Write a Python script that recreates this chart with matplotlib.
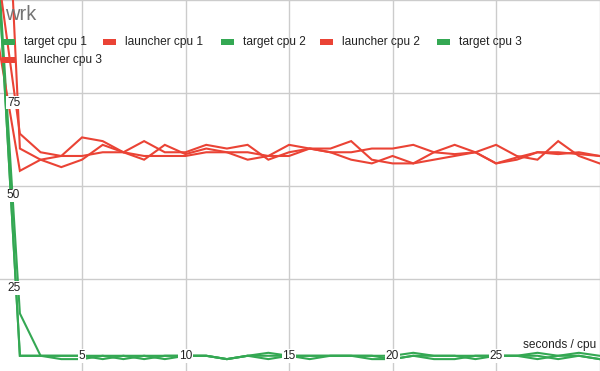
import matplotlib
matplotlib.use("Agg")
import matplotlib.pyplot as plt
from matplotlib.patches import Rectangle

# --- data (percent cpu per second) ---
seconds = list(range(1, 31))
target_cpu_1 = [105, 15.6, 4.2, 4.2, 4.2, 4.2, 4.2, 4.2, 4.2, 4.2,
                4.2, 3.3, 4.2, 5.0, 4.2, 4.2, 4.2, 4.2, 4.2, 4.2,
                5.0, 4.2, 4.2, 3.3, 4.2, 4.2, 5.0, 4.2, 5.0, 4.2]
target_cpu_2 = [103, 4.2, 4.2, 3.3, 3.3, 4.2, 3.3, 4.2, 3.3, 4.2,
                4.2, 3.3, 4.2, 4.2, 4.2, 3.3, 4.2, 4.2, 3.3, 3.3,
                4.2, 3.3, 3.3, 4.2, 4.2, 4.2, 4.2, 3.3, 4.2, 3.3]
target_cpu_3 = [103, 4.2, 4.2, 4.2, 4.2, 3.3, 4.2, 3.3, 4.2, 4.2,
                4.2, 3.3, 4.2, 3.3, 4.2, 4.2, 4.2, 4.2, 4.2, 3.3,
                4.2, 4.2, 4.2, 4.2, 4.2, 4.2, 3.3, 4.2, 4.2, 3.3]
launcher_cpu_1 = [87, 54, 57, 58, 63, 62, 59, 62, 59, 59,
                  61, 60, 61, 57, 59, 60, 60, 62, 57, 56,
                  56, 57, 58, 59, 56, 57.6, 59, 58.5, 59, 58]
launcher_cpu_2 = [180, 60, 57, 55, 57, 61, 59, 57, 61, 58.5,
                  60, 59, 57, 58, 61, 60, 59, 59, 60, 60,
                  61, 59, 58.5, 59, 56, 57, 59, 59, 58.5, 58]
launcher_cpu_3 = [105, 64, 59, 58, 58, 59, 59, 58, 58, 58,
                  59, 59, 59, 58, 58, 60, 59, 57, 56, 58,
                  56, 59, 61, 59, 61, 58, 57, 62, 58, 56]

series_names = ["target cpu 1", "launcher cpu 1", "target cpu 2",
                "launcher cpu 2", "target cpu 3", "launcher cpu 3"]
series_values = [target_cpu_1, launcher_cpu_1, target_cpu_2,
                 launcher_cpu_2, target_cpu_3, launcher_cpu_3]
x_ticks = [5, 10, 15, 20, 25]
y_ticks = [25, 50, 75]

GREEN = "#34a853"
RED = "#ea4335"
W, H = 600, 371

plt.rcParams["font.family"] = ["Liberation Sans", "DejaVu Sans"]

fig = plt.figure(figsize=(W / 100, H / 100), dpi=100)
ax = fig.add_axes([0, 0, 1, 1])
ax.set_xlim(1.04, 30.02)
ax.set_ylim(0.1, 99.8)
for s in ax.spines.values():
    s.set_visible(False)
ax.set_xticks(x_ticks + [30])
ax.set_yticks(y_ticks + [100])
ax.tick_params(length=0, labelbottom=False, labelleft=False)
ax.grid(True, color="#cccccc", linewidth=1)
ax.set_axisbelow(True)

for name, vals in zip(series_names, series_values):
    col = GREEN if name.startswith("target") else RED
    ax.plot(seconds, vals, color=col, linewidth=1.5, solid_joinstyle="miter")

lbl = dict(fontsize=8.6, color="#222222", zorder=5,
           bbox=dict(facecolor="white", edgecolor="none", pad=0.6))
for t in x_ticks:
    ax.annotate(str(t), xy=(t, 0), xycoords=("data", "axes fraction"),
                xytext=(0, 11), textcoords="offset points",
                ha="center", va="center", **lbl)
for t in y_ticks:
    ax.annotate(str(t), xy=(0, t), xycoords=("axes fraction", "data"),
                xytext=(5, -7), textcoords="offset points",
                ha="left", va="center", **lbl)
ax.annotate("seconds / cpu", xy=(1, 0), xycoords="axes fraction",
            xytext=(-2.5, 18.5), textcoords="offset points",
            ha="right", va="center", fontsize=8.6, color="#222222", zorder=5)

# title
fig.text(5 / W, 1 - 15 / H, "wrk", fontsize=14.4, color="#757575",
         ha="left", va="center")

# legend laid out like a flowing html legend
marker_x = [2, 103, 221, 320, 437, 2]
row_y = [42, 42, 42, 42, 42, 60]
for name, mx, my in zip(series_names, marker_x, row_y):
    col = GREEN if name.startswith("target") else RED
    fig.patches.append(Rectangle((mx / W, 1 - (my + 2.5) / H), 13 / W, 5 / H,
                                 transform=fig.transFigure, facecolor=col,
                                 edgecolor="none", zorder=6))
    fig.text((mx + 22) / W, 1 - my / H, name, fontsize=8.6, color="#222222",
             ha="left", va="center", zorder=6)

fig.savefig("out.png", dpi=100)
